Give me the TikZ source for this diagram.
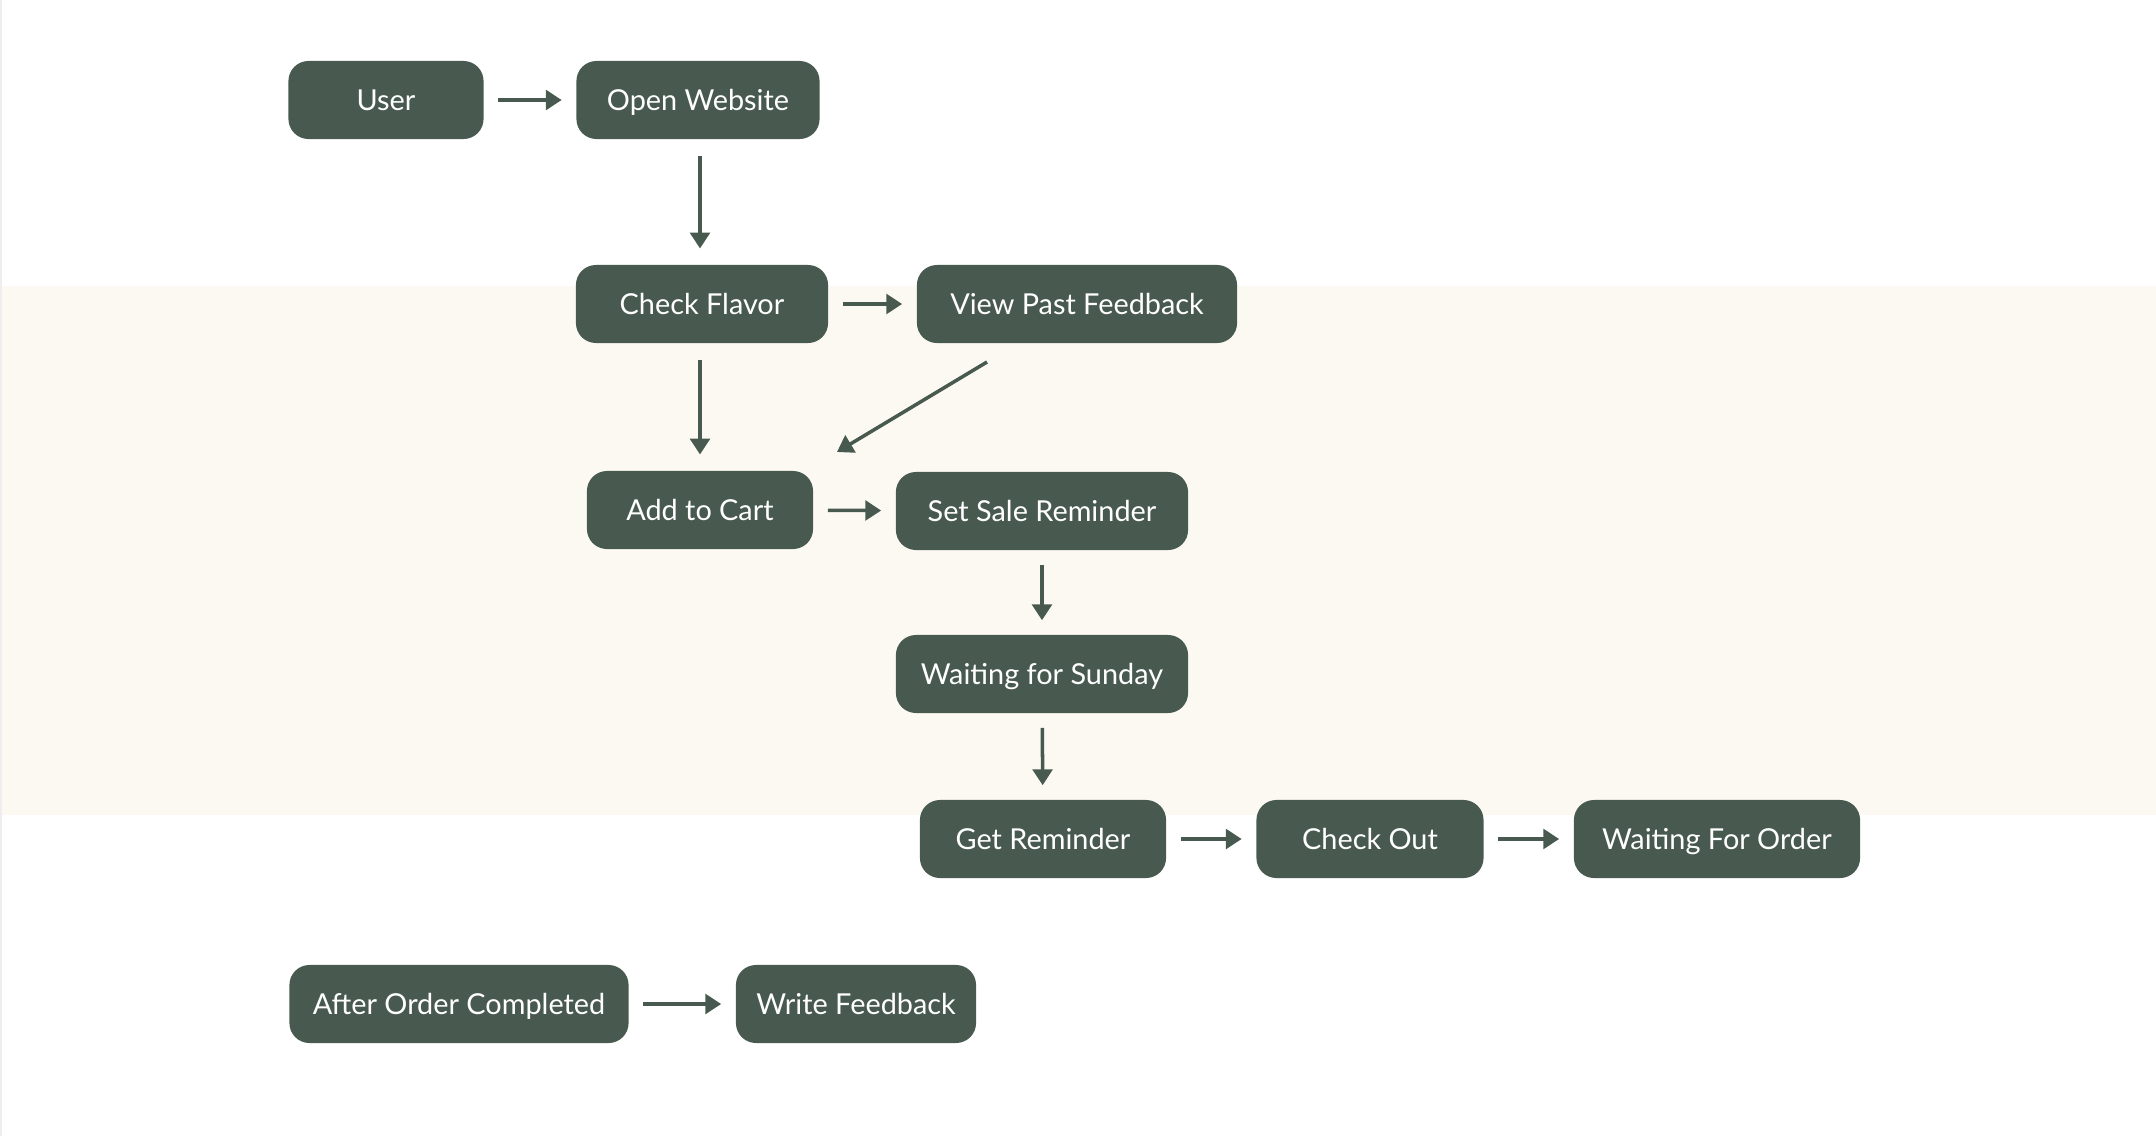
\documentclass[tikz,border=0pt]{standalone}
\usepackage{fontspec}
\setmainfont{Lato}
\usetikzlibrary{arrows.meta}

\definecolor{boxgreen}{HTML}{485A4F}
\definecolor{bandcream}{HTML}{FCF9F3}
\definecolor{edgegray}{HTML}{EEEEEE}

\tikzset{
    box/.style={rounded corners=0.2cm, fill=boxgreen, text=white, minimum height=0.78cm,
        inner sep=0pt, text height=5.9pt, text depth=0pt, font=\fontsize{8.2}{10}\selectfont},
    flow/.style={draw=boxgreen, line width=1pt, -{Triangle[length=4.5pt,width=5.6pt]},
        shorten <=4pt, shorten >=4pt}
}

\begin{document}
\begin{tikzpicture}[x=0.01cm, y=-0.01cm]
    % fondo
    \useasboundingbox (0,0) rectangle (2156,1136);
    \fill[white] (0,0) rectangle (2156,1136);
    \fill[bandcream] (0,286) rectangle (2156,815); %Franja central
    \fill[edgegray] (0,0) rectangle (2,1136); %borde izquierdo

    % fila de arriba
    \node[box, minimum width=1.95cm] (user) at (386,100) {User};
    \node[box, minimum width=2.43cm] (open) at (698,100) {Open Website};

    % sabores
    \node[box, minimum width=2.52cm] (flavor) at (702,304) {Check Flavor};
    \node[box, minimum width=3.20cm] (feedback) at (1077,304) {View Past Feedback};

    % carrito
    \node[box, minimum width=2.26cm] (cart) at (700,510) {Add to Cart};
    \node[box, minimum width=2.92cm] (reminder) at (1042,511) {Set Sale Reminder};
    \node[box, minimum width=2.92cm] (sunday) at (1042,674) {Waiting for Sunday};

    % pedido
    \node[box, minimum width=2.46cm] (getrem) at (1043,839) {Get Reminder};
    \node[box, minimum width=2.27cm] (checkout) at (1370,839) {Check Out};
    \node[box, minimum width=2.86cm] (waitorder) at (1717,839) {Waiting For Order};

    % despues del pedido
    \node[box, minimum width=3.39cm] (after) at (459,1004) {After Order Completed};
    \node[box, minimum width=2.40cm] (write) at (856,1004) {Write Feedback};

    % flechas
    \draw[flow] (user) -- (open);
    \draw[flow, shorten <=4.5pt, shorten >=4.5pt] (open.south -| cart) -- (flavor.north -| cart);
    \draw[flow] (flavor) -- (feedback);
    \draw[flow, shorten <=4.5pt, shorten >=4.5pt] (flavor.south -| cart) -- (cart);
    \coordinate (fbstart) at (987,362); %inicio diagonal
    \coordinate (cartend) at (837,452); %fin diagonal
    \draw[flow, shorten <=0pt, shorten >=0pt] (fbstart) -- (cartend);
    \draw[flow] (cart) -- (reminder);
    \draw[flow] (reminder) -- (sunday);
    \draw[flow] (sunday) -- (getrem);
    \draw[flow] (getrem) -- (checkout);
    \draw[flow] (checkout) -- (waitorder);
    \draw[flow] (after) -- (write);
\end{tikzpicture}
\end{document}
